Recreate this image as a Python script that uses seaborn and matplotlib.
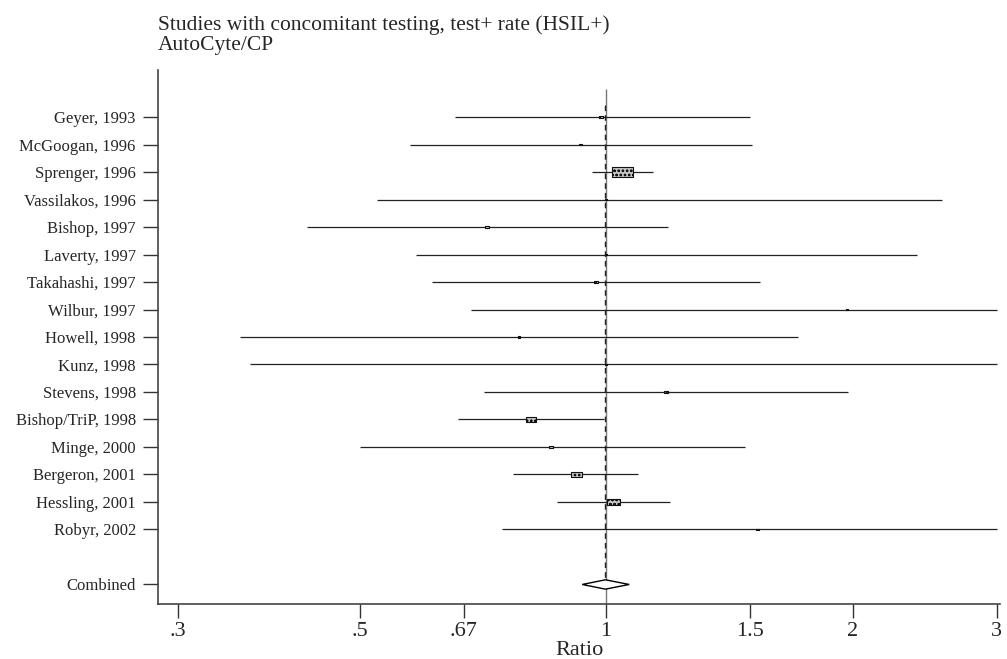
import numpy as np
import pandas as pd
import matplotlib
matplotlib.use('Agg')
import matplotlib.pyplot as plt
from matplotlib.path import Path
import seaborn as sns

# Study data
studies = ['Geyer, 1993', 'McGoogan, 1996', 'Sprenger, 1996', 'Vassilakos, 1996',
           'Bishop, 1997', 'Laverty, 1997', 'Takahashi, 1997', 'Wilbur, 1997',
           'Howell, 1998', 'Kunz, 1998', 'Stevens, 1998', 'Bishop/TriP, 1998',
           'Minge, 2000', 'Bergeron, 2001', 'Hessling, 2001', 'Robyr, 2002']
ratio = [0.986, 0.930, 1.046, 1.000, 0.716, 1.000, 0.972, 1.970,
         0.783, 1.000, 1.184, 0.810, 0.857, 0.919, 1.020, 1.530]
lower = [0.654, 0.576, 0.961, 0.525, 0.431, 0.586, 0.613, 0.684,
         0.357, 0.367, 0.710, 0.660, 0.500, 0.770, 0.871, 0.747]
upper = [1.499, 1.507, 1.141, 2.570, 1.190, 2.400, 1.540, 3.400,
         1.716, 3.600, 1.975, 0.995, 1.478, 1.094, 1.197, 3.200]
weight = [1.4, 0.8, 45.0, 0.3, 1.2, 0.3, 1.2, 0.3,
          0.4, 0.3, 0.9, 10.0, 1.0, 12.5, 17.0, 0.6]

combined_label = 'Combined'
combined_est = 0.998
combined_lo = 0.935
combined_hi = 1.067

xticks = [0.3, 0.5, 0.67, 1, 1.5, 2, 3]
xticklabels = ['.3', '.5', '.67', '1', '1.5', '2', '3']

df = pd.DataFrame({'study': studies, 'ratio': ratio, 'lower': lower,
                   'upper': upper, 'weight': weight})
df['row'] = np.arange(len(df))
df['upper_c'] = np.minimum(df['upper'], 3.0)
combined_row = len(df) + 1

sns.set_style('ticks')
plt.rcParams['font.family'] = ['Liberation Serif', 'DejaVu Serif']
plt.rcParams['hatch.linewidth'] = 0.6

fig = plt.figure(figsize=(10.07, 6.59), dpi=100)
ax = fig.add_axes([158/1007, 1 - 604/659, (1000 - 158)/1007, (604 - 70)/659])

# confidence intervals
ax.hlines(df['row'], df['lower'], df['upper_c'], color='#222222', lw=0.9, zorder=2)

# no-effect line and overall effect line
ax.vlines(1.0, -1.02, 17.71, color='#777777', lw=1.0, zorder=1)
ax.vlines(combined_est, -0.45, combined_row - 0.15, color='#222222', lw=1.0,
          linestyles=(0, (4, 3)), zorder=3)

# weighted boxes
box = Path([(-1, -0.45), (1, -0.45), (1, 0.45), (-1, 0.45), (-1, -0.45)],
           [Path.MOVETO, Path.LINETO, Path.LINETO, Path.LINETO, Path.CLOSEPOLY])
sns.scatterplot(data=df, x='ratio', y='row', size='weight', sizes=(1.5, 228),
                size_norm=(0, 45), marker=box, color='#c4c4c4', edgecolor='#111111',
                linewidth=0.8, hatch='oooo', legend=False, ax=ax, zorder=4)

# combined diamond
h = 0.17
ax.fill([combined_lo, combined_est, combined_hi, combined_est],
        [combined_row, combined_row - h, combined_row, combined_row + h],
        facecolor='white', edgecolor='black', lw=1.0, zorder=5)

ax.set_xscale('log')
ax.set_xlim(0.2836, 3.027)
ax.set_ylim(17.71, -1.71)
ax.set_xticks(xticks)
ax.set_xticklabels(xticklabels, fontsize=16)
ax.xaxis.set_minor_locator(plt.NullLocator())
ax.set_yticks(list(df['row']) + [combined_row])
ax.set_yticklabels(studies + [combined_label], fontsize=12)
ax.tick_params(axis='x', length=10, width=1, color='#333333', pad=3)
ax.tick_params(axis='y', length=11, width=1, color='#333333', pad=5)
ax.set_xlabel('Ratio', fontsize=16, labelpad=0)
ax.set_ylabel('')

sns.despine(ax=ax, top=True, right=True)
for s in ['left', 'bottom']:
    ax.spines[s].set_color('#444444')
    ax.spines[s].set_linewidth(1.2)

fig.text(158/1007, 1 - 30/659, 'Studies with concomitant testing, test+ rate (HSIL+)',
         fontsize=15.5, va='baseline', ha='left')
fig.text(158/1007, 1 - 50/659, 'AutoCyte/CP', fontsize=15.5, va='baseline', ha='left')

fig.savefig('out.png', dpi=100)
